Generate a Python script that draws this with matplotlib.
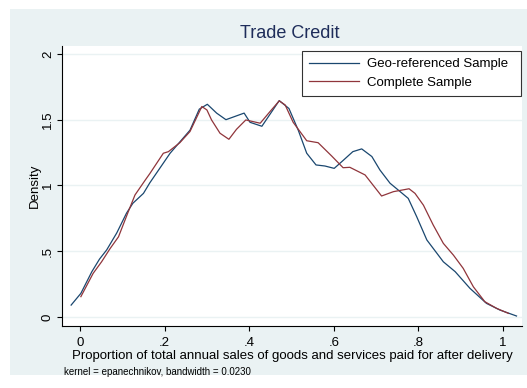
import matplotlib
matplotlib.use('Agg')
import matplotlib.pyplot as plt
from matplotlib.patches import Rectangle

plt.rcParams['font.family'] = ['Liberation Sans', 'DejaVu Sans']

# Kernel density estimates
geo_x = [-0.021, 0.002, 0.028, 0.046, 0.063, 0.087, 0.110, 0.125, 0.150, 0.165,
         0.213, 0.260, 0.282, 0.301, 0.323, 0.345, 0.388, 0.402, 0.430, 0.471,
         0.494, 0.516, 0.536, 0.558, 0.579, 0.601, 0.622, 0.645, 0.666, 0.690,
         0.709, 0.733, 0.757, 0.776, 0.796, 0.820, 0.859, 0.887, 0.922, 0.961,
         0.993, 1.032]
geo_y = [0.091, 0.18, 0.345, 0.44, 0.51, 0.64, 0.79, 0.865, 0.94, 1.02,
         1.245, 1.42, 1.58, 1.617, 1.55, 1.50, 1.55, 1.48, 1.45, 1.645,
         1.585, 1.42, 1.245, 1.156, 1.148, 1.13, 1.19, 1.257, 1.278, 1.22,
         1.118, 1.017, 0.953, 0.902, 0.763, 0.586, 0.42, 0.345, 0.218, 0.104,
         0.053, 0.008]

comp_x = [0.002, 0.031, 0.051, 0.071, 0.091, 0.114, 0.130, 0.154, 0.165, 0.197,
          0.209, 0.236, 0.260, 0.288, 0.300, 0.311, 0.331, 0.352, 0.370, 0.392,
          0.426, 0.449, 0.471, 0.485, 0.504, 0.536, 0.563, 0.595, 0.622, 0.638,
          0.674, 0.713, 0.741, 0.778, 0.792, 0.812, 0.835, 0.859, 0.883, 0.906,
          0.930, 0.957, 0.985, 1.013]
comp_y = [0.155, 0.332, 0.42, 0.52, 0.61, 0.80, 0.928, 1.04, 1.09, 1.245,
          1.257, 1.325, 1.41, 1.60, 1.574, 1.498, 1.397, 1.351, 1.427, 1.498,
          1.473, 1.561, 1.643, 1.612, 1.48, 1.34, 1.325, 1.224, 1.135, 1.138,
          1.08, 0.92, 0.953, 0.975, 0.94, 0.85, 0.70, 0.56, 0.47, 0.37,
          0.23, 0.117, 0.066, 0.028]

x_ticks = [0, 0.2, 0.4, 0.6, 0.8, 1.0]
x_labels = ['0', '.2', '.4', '.6', '.8', '1']
y_ticks = [0, 0.5, 1.0, 1.5, 2.0]
y_labels = ['0', '.5', '1', '1.5', '2']

W, H = 527, 388
fig = plt.figure(figsize=(W / 100, H / 100), dpi=100)
fig.patches.append(Rectangle((10 / W, (H - 375) / H), (W - 10) / W, 366 / H,
                             transform=fig.transFigure, facecolor='#EAF2F3',
                             edgecolor='none', zorder=-10))

ax = fig.add_axes([62 / W, (H - 326) / H, 460 / W, 280 / H])
ax.set_facecolor('white')
ax.plot(geo_x, geo_y, color='#1A476F', lw=0.9, label='Geo-referenced Sample')
ax.plot(comp_x, comp_y, color='#90353B', lw=0.9, label='Complete Sample')

ax.set_xlim(-0.0426, 1.045)
ax.set_ylim(-0.068, 2.06)
ax.set_xticks(x_ticks)
ax.set_xticklabels(x_labels, fontsize=9.5)
ax.set_yticks(y_ticks)
ax.set_yticklabels(y_labels, fontsize=9.5, rotation=90, va='center')
ax.grid(axis='y', color='#EAF2F3', lw=1)
ax.set_axisbelow(True)
for s in ['top', 'right']:
    ax.spines[s].set_visible(False)
ax.tick_params(length=3.8, width=0.8)
ax.tick_params(axis='x', pad=4)
ax.tick_params(axis='y', pad=2)

ax.set_ylabel('Density', fontsize=9.5, labelpad=1)
ax.set_xlabel('Proportion of total annual sales of goods and services paid for after delivery',
              fontsize=9.5, labelpad=1)
fig.text(290 / W, 1 - 33 / H, 'Trade Credit', ha='center', va='center',
         fontsize=13, color='#1E2D5A')
fig.text(64 / W, 1 - 372 / H, 'kernel = epanechnikov, bandwidth = 0.0230',
         ha='left', va='center', fontsize=7)

leg = ax.legend(loc='upper left', bbox_to_anchor=(302 / W, 1 - 95 / H, 219 / W, 44 / H),
                bbox_transform=fig.transFigure, mode='expand', borderaxespad=0,
                fontsize=9.5, frameon=True, fancybox=False, edgecolor='black',
                handlelength=3.8, handletextpad=0.6, borderpad=0.55,
                labelspacing=0.45)
leg.get_frame().set_linewidth(0.8)

fig.savefig('out.png', dpi=100)
